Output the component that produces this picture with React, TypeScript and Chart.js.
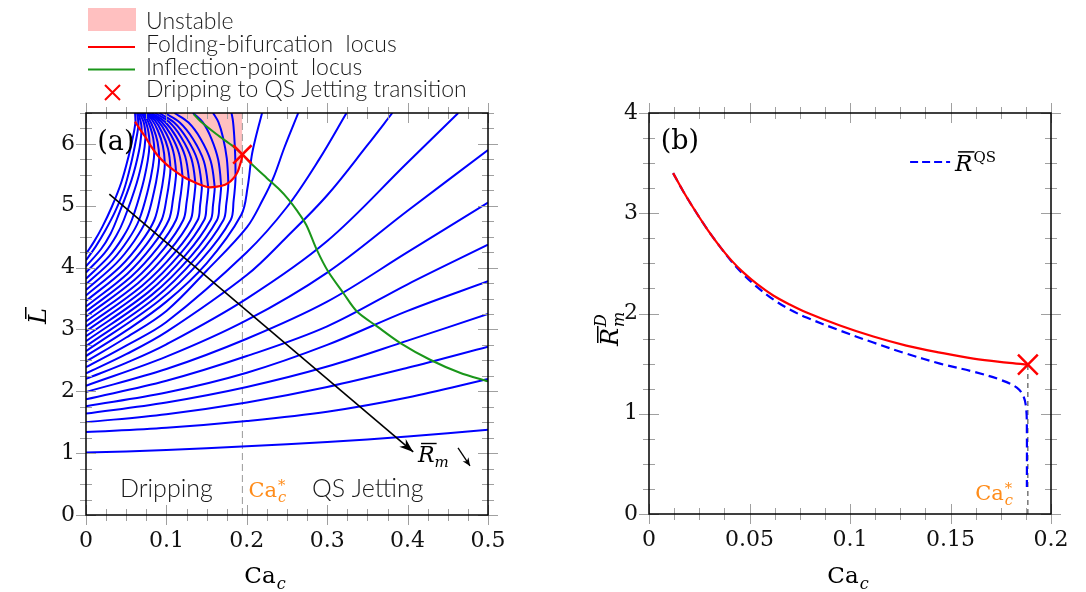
import { useEffect, useRef } from "react";
import { Chart, registerables } from "chart.js";

Chart.register(...registerables);

type Pt = [number, number];

// ---------------- Panel (a) : L-bar versus Ca_c ----------------
const caTicksA = [0, 0.1, 0.2, 0.3, 0.4, 0.5];
const lTicksA = [0, 1, 2, 3, 4, 5, 6];

// blue curves leaving through the right edge
const rightExitCurves: Pt[][] = [
  [[0, 1.01], [0.1, 1.05], [0.2, 1.11], [0.3, 1.18], [0.4, 1.27], [0.5, 1.38]],
  [[0, 1.34], [0.1, 1.41], [0.2, 1.52], [0.3, 1.67], [0.4, 1.9], [0.5, 2.2]],
  [[0, 1.5], [0.1, 1.63], [0.2, 1.82], [0.3, 2.07], [0.4, 2.38], [0.5, 2.72]],
  [[0, 1.64], [0.1, 1.82], [0.2, 2.07], [0.3, 2.4], [0.4, 2.82], [0.5, 3.25]],
  [[0, 1.76], [0.1, 1.98], [0.2, 2.3], [0.3, 2.75], [0.4, 3.3], [0.5, 3.78]],
  [[0, 1.87], [0.1, 2.17], [0.2, 2.57], [0.3, 3.05], [0.4, 3.73], [0.5, 4.37]],
  [[0, 1.99], [0.1, 2.36], [0.2, 2.85], [0.3, 3.45], [0.4, 4.25], [0.5, 5.05]],
  [[0, 2.09], [0.1, 2.56], [0.2, 3.15], [0.3, 3.92], [0.4, 4.92], [0.5, 5.9]],
];

// blue curves leaving through the top edge without folding
const topExitCurves: Pt[][] = [
  [[0, 2.2], [0.05, 2.46], [0.1, 2.76], [0.2, 3.5], [0.3, 4.43], [0.4, 5.7], [0.463, 6.5]],
  [[0, 2.29], [0.05, 2.6], [0.1, 2.96], [0.2, 3.88], [0.25, 4.5], [0.3, 5.17], [0.35, 5.98], [0.381, 6.5]],
  [[0, 2.39], [0.05, 2.74], [0.1, 3.12], [0.2, 4.25], [0.25, 4.98], [0.29, 5.75], [0.324, 6.5]],
  [[0, 2.48], [0.05, 2.87], [0.1, 3.3], [0.15, 3.95], [0.2, 4.65], [0.22, 5.1], [0.233, 5.45], [0.247, 5.95], [0.264, 6.5]],
  [[0, 2.57], [0.05, 2.98], [0.1, 3.45], [0.15, 4.07], [0.193, 4.85], [0.201, 5.3], [0.206, 5.8], [0.211, 6.1], [0.219, 6.5]],
];

// blue curves that fold back (maximum Ca on the folding locus)
const foldCurves: Pt[][] = [
  [[0, 2.65], [0.09, 3.456], [0.144, 4.134], [0.18, 4.77], [0.1836, 5.085], [0.1854, 5.316], [0.186, 5.47], [0.1855, 5.83], [0.1843, 6.14], [0.1828, 6.37], [0.181, 6.5]],
  [[0, 2.73], [0.0855, 3.505], [0.1368, 4.158], [0.171, 4.77], [0.1746, 5.04], [0.1764, 5.238], [0.177, 5.37], [0.1751, 5.766], [0.1704, 6.105], [0.1647, 6.353], [0.158, 6.5]],
  [[0, 2.81], [0.0815, 3.555], [0.1304, 4.182], [0.163, 4.77], [0.166, 5.022], [0.1675, 5.207], [0.168, 5.33], [0.1645, 5.74], [0.1558, 6.09], [0.1453, 6.348], [0.133, 6.5]],
  [[0, 2.89], [0.0775, 3.604], [0.124, 4.206], [0.155, 4.77], [0.158, 5.013], [0.1595, 5.191], [0.16, 5.31], [0.155, 5.727], [0.1425, 6.084], [0.1275, 6.345], [0.11, 6.5]],
  [[0, 2.97], [0.0735, 3.654], [0.1176, 4.23], [0.147, 4.77], [0.15, 5.009], [0.1515, 5.183], [0.152, 5.3], [0.1466, 5.72], [0.1331, 6.08], [0.1169, 6.344], [0.098, 6.5]],
  [[0, 3.05], [0.0695, 3.704], [0.1112, 4.254], [0.139, 4.77], [0.142, 5.018], [0.1435, 5.199], [0.144, 5.32], [0.1387, 5.733], [0.1255, 6.087], [0.1096, 6.347], [0.091, 6.5]],
  [[0, 3.13], [0.065, 3.753], [0.104, 4.278], [0.13, 4.77], [0.1336, 5.04], [0.1354, 5.238], [0.136, 5.37], [0.131, 5.766], [0.1185, 6.105], [0.1035, 6.353], [0.086, 6.5]],
  [[0, 3.21], [0.0605, 3.803], [0.0968, 4.302], [0.121, 4.77], [0.1252, 5.063], [0.1273, 5.277], [0.128, 5.42], [0.1234, 5.798], [0.1119, 6.122], [0.0981, 6.36], [0.082, 6.5]],
  [[0, 3.29], [0.056, 3.852], [0.0896, 4.326], [0.112, 4.77], [0.1168, 5.09], [0.1192, 5.324], [0.12, 5.48], [0.1159, 5.837], [0.1057, 6.143], [0.0934, 6.367], [0.079, 6.5]],
  [[0, 3.37], [0.0515, 3.902], [0.0824, 4.35], [0.103, 4.77], [0.1084, 5.121], [0.1111, 5.378], [0.112, 5.55], [0.1085, 5.883], [0.0998, 6.168], [0.0893, 6.377], [0.077, 6.5]],
  [[0, 3.46], [0.047, 3.958], [0.0752, 4.377], [0.094, 4.77], [0.1006, 5.148], [0.1039, 5.425], [0.105, 5.61], [0.102, 5.922], [0.0945, 6.189], [0.0855, 6.384], [0.075, 6.5]],
  [[0, 3.55], [0.0425, 4.014], [0.068, 4.404], [0.085, 4.77], [0.0928, 5.184], [0.0967, 5.488], [0.098, 5.69], [0.0955, 5.974], [0.0893, 6.217], [0.0818, 6.395], [0.073, 6.5]],
  [[0, 3.64], [0.0375, 4.069], [0.06, 4.431], [0.075, 4.77], [0.0846, 5.225], [0.0894, 5.558], [0.091, 5.78], [0.089, 6.032], [0.084, 6.248], [0.078, 6.406], [0.071, 6.5]],
  [[0, 3.73], [0.033, 4.125], [0.0528, 4.458], [0.066, 4.77], [0.0774, 5.27], [0.0831, 5.636], [0.085, 5.88], [0.0835, 6.097], [0.0796, 6.283], [0.0749, 6.419], [0.0695, 6.5]],
  [[0, 3.82], [0.0285, 4.181], [0.0456, 4.485], [0.057, 4.77], [0.0702, 5.324], [0.0768, 5.729], [0.079, 6.0], [0.0779, 6.175], [0.0752, 6.325], [0.0718, 6.435], [0.068, 6.5]],
  [[0, 3.92], [0.0235, 4.243], [0.0376, 4.515], [0.047, 4.77], [0.0632, 5.373], [0.0713, 5.815], [0.074, 6.11], [0.0733, 6.247], [0.0714, 6.364], [0.0665, 6.5]],
  [[0, 4.02], [0.019, 4.305], [0.0304, 4.545], [0.038, 4.77], [0.0566, 5.414], [0.0659, 5.885], [0.069, 6.2], [0.0685, 6.33], [0.065, 6.5]],
  [[0, 4.12], [0.012, 4.34], [0.024, 4.6], [0.036, 4.9], [0.047, 5.25], [0.056, 5.68], [0.062, 6.05], [0.065, 6.28], [0.0647, 6.4], [0.0635, 6.5]],
  [[0, 4.22], [0.01, 4.42], [0.02, 4.65], [0.032, 4.98], [0.044, 5.38], [0.053, 5.8], [0.059, 6.15], [0.0615, 6.36], [0.061, 6.5]],
];

const foldLocus: Pt[] = [
  [0.061, 6.36], [0.067, 6.24], [0.0734, 6.12], [0.081, 5.96], [0.0899, 5.8], [0.1, 5.67],
  [0.1107, 5.56], [0.121, 5.47], [0.1315, 5.4], [0.142, 5.34], [0.152, 5.3], [0.163, 5.31],
  [0.173, 5.34], [0.18, 5.4], [0.185, 5.47], [0.189, 5.56], [0.1915, 5.66], [0.1935, 5.75], [0.1945, 5.83],
];
const unstableRegion: Pt[] = [[0.059, 6.5], ...foldLocus];

const inflectionLocus: Pt[] = [
  [0.134, 6.48], [0.142, 6.37], [0.162, 6.16], [0.183, 5.96], [0.1945, 5.83], [0.204, 5.7],
  [0.2247, 5.45], [0.24, 5.27], [0.252, 5.1], [0.262, 4.93], [0.274, 4.69], [0.287, 4.29],
  [0.301, 3.94], [0.32, 3.59], [0.337, 3.29], [0.362, 3.05], [0.391, 2.78], [0.428, 2.51],
  [0.465, 2.3], [0.5, 2.16],
];
const transitionA: Pt = [0.1945, 5.83];
const caStarA = 0.1945;
const rmArrow: Pt[] = [[0.029, 5.19], [0.407, 1.02]];

// ---------------- Panel (b) : R_m^D versus Ca_c ----------------
const caTicksB = [0, 0.05, 0.1, 0.15, 0.2];
const rTicksB = [0, 1, 2, 3, 4];
const caDrip = [0.012, 0.017, 0.0228, 0.029, 0.0352, 0.041, 0.0469, 0.054, 0.0618, 0.07, 0.0784, 0.095, 0.1116, 0.128, 0.1448, 0.1614, 0.178, 0.1883];
const rDrip = [3.4, 3.22, 3.03, 2.84, 2.67, 2.53, 2.41, 2.29, 2.18, 2.09, 2.01, 1.88, 1.77, 1.68, 1.61, 1.55, 1.51, 1.49];
const caQS = [0.012, 0.017, 0.0228, 0.029, 0.0352, 0.041, 0.0469, 0.054, 0.0618, 0.07, 0.0784, 0.095, 0.1116, 0.128, 0.1448, 0.1614, 0.1747, 0.183, 0.1864, 0.1877, 0.188, 0.188];
const rQS = [3.4, 3.22, 3.03, 2.84, 2.67, 2.52, 2.39, 2.26, 2.14, 2.04, 1.96, 1.83, 1.71, 1.6, 1.5, 1.42, 1.34, 1.26, 1.17, 1.04, 0.81, 0.27];
const transitionB: Pt = [0.1885, 1.49];

// ---------------- styling helpers ----------------
const SERIF = '"DejaVu Serif", serif';
const SANS = 'Lato, "Open Sans", sans-serif';
const serif = (s: number, it = false) => `${it ? "italic " : ""}${s}px ${SERIF}`;
const sans = (s: number) => `300 ${s}px ${SANS}`;
const ORANGE = "#ff8c1a";
const BLUE = "#0000ff";
const RED = "#ff0000";
const GREEN = "#1a961a";
const PINK = "#ffc0c0";
const TEXT = "#1a1a1a";

const toXY = (pts: Pt[]) => pts.map(([x, y]) => ({ x, y }));
const zip = (xs: number[], ys: number[]) => xs.map((x, i) => ({ x, y: ys[i] }));
const fmt = (v: number) => String(+Number(v).toFixed(3));

function drawTicksFrame(chart: any, xMajor: number[], xMinor: number, yMajor: number[], yMinor: number) {
  const { ctx, chartArea: a, scales } = chart;
  const sx = scales.x, sy = scales.y;
  ctx.save();
  ctx.strokeStyle = "#a0a0a0";
  ctx.lineWidth = 1;
  ctx.beginPath();
  const nx = Math.round((sx.max - sx.min) / xMinor);
  for (let i = 0; i <= nx; i++) {
    const v = sx.min + i * xMinor;
    const major = xMajor.some((m) => Math.abs(m - v) < 1e-9);
    const h = major ? 10 : 6;
    const px = Math.round(sx.getPixelForValue(v)) + 0.5;
    ctx.moveTo(px, a.bottom - h); ctx.lineTo(px, a.bottom + h);
    ctx.moveTo(px, a.top - h); ctx.lineTo(px, a.top + h);
  }
  const ny = Math.round((sy.max - sy.min) / yMinor);
  for (let i = 0; i <= ny; i++) {
    const v = sy.min + i * yMinor;
    const major = yMajor.some((m) => Math.abs(m - v) < 1e-9);
    const h = major ? 10 : 6;
    const py = Math.round(sy.getPixelForValue(v)) + 0.5;
    ctx.moveTo(a.left - h, py); ctx.lineTo(a.left + h, py);
    ctx.moveTo(a.right - h, py); ctx.lineTo(a.right + h, py);
  }
  ctx.stroke();
  ctx.strokeStyle = "#000";
  ctx.lineWidth = 1.5;
  ctx.strokeRect(a.left, a.top, a.right - a.left, a.bottom - a.top);
  ctx.restore();
}

function drawCa(ctx: CanvasRenderingContext2D, x: number, y: number, size: number, color: string, star: boolean, align: "left" | "center" | "right") {
  ctx.save();
  ctx.textBaseline = "alphabetic";
  ctx.textAlign = "left";
  ctx.font = serif(size);
  const wCa = ctx.measureText("Ca").width;
  ctx.font = serif(size * 0.7, true);
  const wc = ctx.measureText("c").width;
  const total = wCa + 1 + wc;
  const x0 = align === "left" ? x : align === "center" ? x - total / 2 : x - total;
  ctx.fillStyle = color;
  ctx.font = serif(size);
  ctx.fillText("Ca", x0, y);
  ctx.font = serif(size * 0.7, true);
  ctx.fillText("c", x0 + wCa + 1, y + size * 0.25);
  if (star) {
    ctx.font = serif(size * 0.7);
    ctx.fillText("*", x0 + wCa + 1, y - size * 0.3);
  }
  ctx.restore();
}

function arrowHead(ctx: CanvasRenderingContext2D, x0: number, y0: number, x1: number, y1: number, len: number, half: number) {
  const ang = Math.atan2(y1 - y0, x1 - x0);
  ctx.beginPath();
  ctx.moveTo(x1, y1);
  ctx.lineTo(x1 - len * Math.cos(ang) + half * Math.sin(ang), y1 - len * Math.sin(ang) - half * Math.cos(ang));
  ctx.lineTo(x1 - len * 0.7 * Math.cos(ang), y1 - len * 0.7 * Math.sin(ang));
  ctx.lineTo(x1 - len * Math.cos(ang) - half * Math.sin(ang), y1 - len * Math.sin(ang) + half * Math.cos(ang));
  ctx.closePath();
  ctx.fill();
}

const decorA = {
  id: "decorA",
  afterDraw(chart: any) {
    const { ctx } = chart;
    const sx = chart.scales.x, sy = chart.scales.y;
    drawTicksFrame(chart, caTicksA, 0.025, lTicksA, 0.25);
    ctx.save();
    const [a0, a1] = rmArrow;
    ctx.fillStyle = "#000";
    arrowHead(ctx, sx.getPixelForValue(a0[0]), sy.getPixelForValue(a0[1]), sx.getPixelForValue(a1[0]), sy.getPixelForValue(a1[1]), 14, 5);
    // R_m label
    const rx = sx.getPixelForValue(0.413), ry = sy.getPixelForValue(0.86);
    ctx.font = serif(22, true);
    ctx.textBaseline = "alphabetic";
    ctx.textAlign = "left";
    ctx.fillText("R", rx, ry);
    const wR = ctx.measureText("R").width;
    ctx.fillRect(rx + 3, ry - 19, wR - 1, 1.4);
    ctx.font = serif(15, true);
    ctx.fillText("m", rx + wR, ry + 5);
    // small arrow
    const s0x = sx.getPixelForValue(0.4627), s0y = sy.getPixelForValue(1.084);
    const s1x = sx.getPixelForValue(0.4776), s1y = sy.getPixelForValue(0.793);
    ctx.strokeStyle = "#000";
    ctx.lineWidth = 1.3;
    ctx.beginPath(); ctx.moveTo(s0x, s0y); ctx.lineTo(s1x, s1y); ctx.stroke();
    arrowHead(ctx, s0x, s0y, s1x, s1y, 8, 3.5);
    // region labels
    ctx.fillStyle = TEXT;
    ctx.font = sans(25);
    ctx.fillText("Dripping", sx.getPixelForValue(0.0423), sy.getPixelForValue(0.296));
    ctx.fillText("QS Jetting", sx.getPixelForValue(0.281), sy.getPixelForValue(0.296));
    drawCa(ctx, sx.getPixelForValue(0.202), sy.getPixelForValue(0.296), 21, ORANGE, true, "left");
    // panel label
    ctx.fillStyle = "#000";
    ctx.font = serif(27);
    ctx.textBaseline = "middle";
    ctx.fillText("(a)", sx.getPixelForValue(0.014), sy.getPixelForValue(6.02));
    // axis titles
    drawCa(ctx, 265, 583, 23, "#000", false, "center");
    ctx.save();
    ctx.translate(46, 316);
    ctx.rotate(-Math.PI / 2);
    ctx.font = serif(24, true);
    ctx.textBaseline = "alphabetic";
    ctx.textAlign = "center";
    ctx.fillText("L", 0, 0);
    ctx.fillRect(-3, -21, 12, 1.5);
    ctx.restore();
    // legend
    ctx.fillStyle = PINK;
    ctx.fillRect(88, 8, 48, 23);
    ctx.lineWidth = 2;
    ctx.strokeStyle = RED;
    ctx.beginPath(); ctx.moveTo(88, 47); ctx.lineTo(135, 47); ctx.stroke();
    ctx.strokeStyle = GREEN;
    ctx.beginPath(); ctx.moveTo(88, 69.5); ctx.lineTo(135, 69.5); ctx.stroke();
    ctx.strokeStyle = RED;
    ctx.beginPath();
    ctx.moveTo(105, 85); ctx.lineTo(120, 100);
    ctx.moveTo(120, 85); ctx.lineTo(105, 100);
    ctx.stroke();
    ctx.fillStyle = TEXT;
    ctx.font = sans(23);
    ctx.textBaseline = "alphabetic";
    ctx.textAlign = "left";
    ctx.fillText("Unstable", 146, 29);
    ctx.fillText("Folding-bifurcation  locus", 146, 52);
    ctx.fillText("Inflection-point  locus", 146, 74.5);
    ctx.fillText("Dripping to QS Jetting transition", 146, 97);
    ctx.restore();
  },
};

const decorB = {
  id: "decorB",
  afterDraw(chart: any) {
    const { ctx } = chart;
    const sx = chart.scales.x, sy = chart.scales.y;
    drawTicksFrame(chart, caTicksB, 0.0125, rTicksB, 0.25);
    ctx.save();
    ctx.fillStyle = "#000";
    ctx.font = serif(27);
    ctx.textBaseline = "middle";
    ctx.textAlign = "left";
    ctx.fillText("(b)", sx.getPixelForValue(0.0058), sy.getPixelForValue(3.71));
    // legend
    const ly = sy.getPixelForValue(3.51);
    ctx.strokeStyle = BLUE;
    ctx.lineWidth = 2;
    ctx.setLineDash([8, 4]);
    ctx.beginPath(); ctx.moveTo(sx.getPixelForValue(0.1299), ly); ctx.lineTo(sx.getPixelForValue(0.1498), ly); ctx.stroke();
    ctx.setLineDash([]);
    const tx = sx.getPixelForValue(0.1523), ty = sy.getPixelForValue(3.42);
    ctx.textBaseline = "alphabetic";
    ctx.font = serif(23, true);
    ctx.fillText("R", tx, ty);
    const wR = ctx.measureText("R").width;
    ctx.fillRect(tx + 3, ty - 20, wR - 1, 1.5);
    ctx.font = serif(15);
    ctx.fillText("QS", tx + wR + 1, ty - 9);
    // Ca* label
    drawCa(ctx, sx.getPixelForValue(0.1811), sy.getPixelForValue(0.142), 21, ORANGE, true, "right");
    // axis titles
    drawCa(ctx, 288, 583, 23, "#000", false, "center");
    ctx.translate(58, 346);
    ctx.rotate(-Math.PI / 2);
    ctx.font = serif(24, true);
    ctx.fillText("R", 0, 0);
    const w2 = ctx.measureText("R").width;
    ctx.fillRect(3, -21, w2 - 1, 1.5);
    ctx.font = serif(16, true);
    ctx.fillText("m", w2 + 1, 6);
    ctx.fillText("D", w2 + 1, -12);
    ctx.restore();
  },
};

function baseScales(xmin: number, xmax: number, xstep: number, ymin: number, ymax: number, ystep: number, yWidth: number, xHeight: number) {
  return {
    x: {
      type: "linear",
      min: xmin,
      max: xmax,
      afterFit: (s: any) => { s.height = xHeight; },
      grid: { display: false, drawTicks: false },
      border: { display: false },
      ticks: { stepSize: xstep, includeBounds: false, padding: 13, maxRotation: 0, autoSkip: false, color: "#111", font: { family: SERIF, size: 22 }, callback: (v: any) => fmt(v) },
    },
    y: {
      type: "linear",
      min: ymin,
      max: ymax,
      afterFit: (s: any) => { s.width = yWidth; },
      grid: { display: false, drawTicks: false },
      border: { display: false },
      ticks: { stepSize: ystep, includeBounds: false, padding: 11, autoSkip: false, color: "#111", font: { family: SERIF, size: 22 }, callback: (v: any) => fmt(v) },
    },
  };
}

function configA(): any {
  const blue = [...rightExitCurves, ...topExitCurves, ...foldCurves].map((c) => ({
    data: toXY(c), borderColor: BLUE, borderWidth: 2, pointRadius: 0, tension: 0.35, fill: false, order: 4,
  }));
  return {
    type: "line",
    data: {
      datasets: [
        { data: toXY([transitionA]), showLine: false, pointStyle: "crossRot", pointRadius: 13, borderColor: RED, borderWidth: 2.5, order: 0 },
        { data: toXY(foldLocus), borderColor: RED, borderWidth: 2.2, pointRadius: 0, tension: 0.3, fill: false, order: 1 },
        { data: toXY(inflectionLocus), borderColor: GREEN, borderWidth: 2, pointRadius: 0, tension: 0.3, fill: false, order: 2 },
        { data: toXY(rmArrow), borderColor: "#000", borderWidth: 1.6, pointRadius: 0, fill: false, order: 3 },
        ...blue,
        { data: toXY([[caStarA, 0], [caStarA, 6.5]]), borderColor: "#999", borderWidth: 1, borderDash: [7, 4], pointRadius: 0, fill: false, order: 5 },
        { data: toXY(unstableRegion), borderColor: "rgba(0,0,0,0)", borderWidth: 0, backgroundColor: PINK, pointRadius: 0, tension: 0.3, fill: "end", order: 6 },
      ],
    },
    options: {
      animation: false,
      responsive: false,
      devicePixelRatio: 1,
      events: [],
      layout: { padding: { left: 0, right: 72, top: 113, bottom: 0 } },
      plugins: { legend: { display: false }, tooltip: { enabled: false } },
      scales: baseScales(0, 0.5, 0.1, 0, 6.5, 1, 86, 77),
    },
    plugins: [decorA],
  };
}

function configB(): any {
  return {
    type: "line",
    data: {
      datasets: [
        { data: toXY([transitionB]), showLine: false, pointStyle: "crossRot", pointRadius: 14, borderColor: RED, borderWidth: 2.5, order: 0 },
        { data: zip(caDrip, rDrip), borderColor: RED, borderWidth: 2.2, pointRadius: 0, tension: 0.35, fill: false, order: 1 },
        { data: zip(caQS, rQS), borderColor: BLUE, borderWidth: 2.2, borderDash: [9, 5], pointRadius: 0, tension: 0.35, fill: false, order: 2 },
        { data: toXY([[transitionB[0], 0], transitionB]), borderColor: "#333", borderWidth: 1, borderDash: [5, 4], pointRadius: 0, fill: false, order: 3 },
      ],
    },
    options: {
      animation: false,
      responsive: false,
      devicePixelRatio: 1,
      events: [],
      layout: { padding: { left: 0, right: 35, top: 113, bottom: 0 } },
      plugins: { legend: { display: false }, tooltip: { enabled: false } },
      scales: baseScales(0, 0.2, 0.05, 0, 4, 1, 89, 78),
    },
    plugins: [decorB],
  };
}

export default function App() {
  const refA = useRef<HTMLCanvasElement>(null);
  const refB = useRef<HTMLCanvasElement>(null);
  useEffect(() => {
    const ca = new Chart(refA.current as HTMLCanvasElement, configA());
    const cb = new Chart(refB.current as HTMLCanvasElement, configB());
    return () => {
      ca.destroy();
      cb.destroy();
    };
  }, []);
  return (
    <div style={{ position: "absolute", left: 0, top: 0, width: 1086, height: 592, background: "#fff" }}>
      <canvas ref={refA} width={560} height={592} style={{ position: "absolute", left: 0, top: 0, width: 560, height: 592 }} />
      <canvas ref={refB} width={526} height={592} style={{ position: "absolute", left: 560, top: 0, width: 526, height: 592 }} />
    </div>
  );
}
